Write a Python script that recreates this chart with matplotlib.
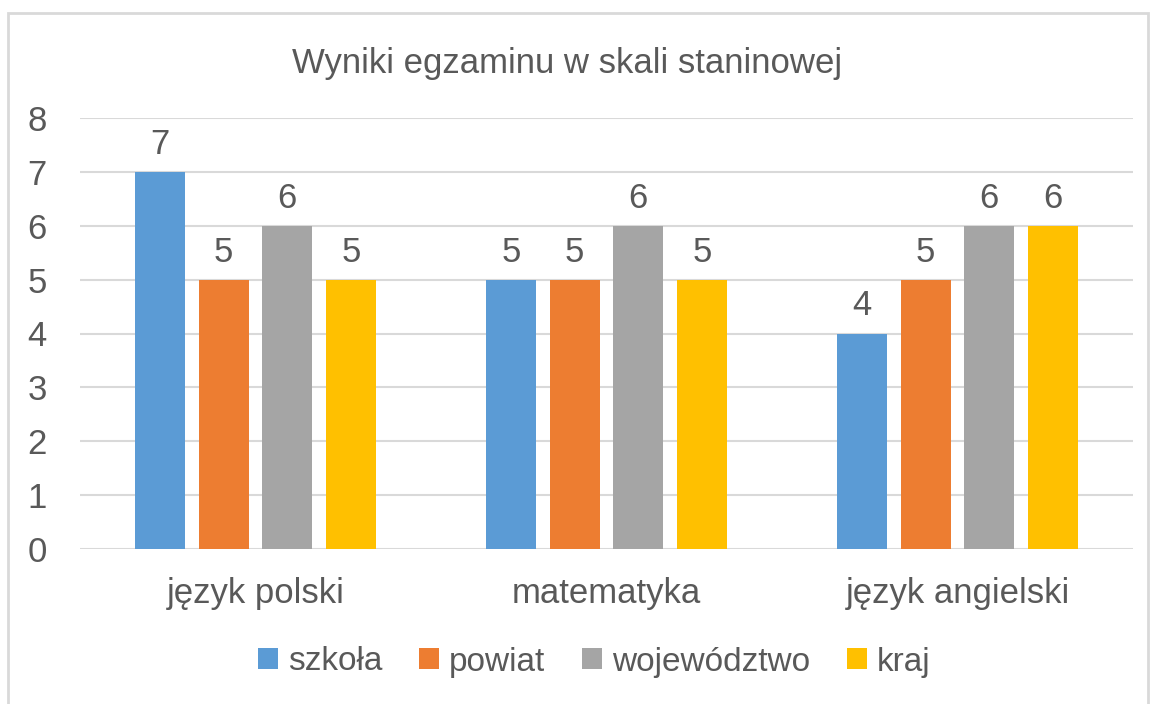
import numpy as np
import matplotlib.pyplot as plt
from matplotlib.patches import Rectangle

# dane z wykresu
przedmioty = ["język polski", "matematyka", "język angielski"]
szkola = [7, 5, 4]
powiat = [5, 5, 5]
wojewodztwo = [6, 6, 6]
kraj = [5, 5, 6]
serie = ["szkoła", "powiat", "województwo", "kraj"]
kolory = ["#5B9BD5", "#ED7D31", "#A5A5A5", "#FFC000"]
tekst = "#595959"

plt.rcParams['font.family'] = ['Liberation Sans', 'DejaVu Sans']

W, H = 1155, 704
fig = plt.figure(figsize=(W / 100, H / 100), dpi=100)
ax = fig.add_axes([80 / W, (H - 549) / H, (1133 - 80) / W, (549 - 118) / H])

x = np.arange(len(przedmioty))
szer = 0.1425
krok = 0.1815
for i, (nazwa, wartosci) in enumerate(zip(serie, [szkola, powiat, wojewodztwo, kraj])):
    bary = ax.bar(x + (i - 1.5) * krok, wartosci, width=szer, color=kolory[i], label=nazwa, zorder=3)
    ax.bar_label(bary, padding=8, fontsize=25, color=tekst)

ax.set_xlim(-0.5, 2.5)
ax.set_ylim(0, 8)
ax.set_yticks(range(0, 9))
ax.set_xticks(x)
ax.set_xticklabels(przedmioty)
ax.tick_params(axis='y', length=0, pad=24, labelsize=25, labelcolor=tekst)
ax.tick_params(axis='x', length=0, pad=20, labelsize=25, labelcolor=tekst)
ax.grid(axis='y', color='#D9D9D9', linewidth=1.5, zorder=0)
for s in ax.spines.values():
    s.set_visible(False)

fig.text(567 / W, 1 - 64 / H, "Wyniki egzaminu w skali staninowej", ha='center', va='center',
         fontsize=25, color=tekst)

fig.legend(loc='center', bbox_to_anchor=(594 / W, 1 - 662 / H), ncol=4, frameon=False,
           fontsize=24, labelcolor=tekst, handlelength=0.6, handleheight=0.6,
           handletextpad=0.3, columnspacing=1.1)

# ramka wykresu
fig.patches.append(Rectangle((8 / W, -0.05), (1148 - 8) / W, 1.05 - 13 / H, transform=fig.transFigure,
                             fill=False, edgecolor='#D9D9D9', linewidth=2))

fig.savefig("out.png", dpi=100)
